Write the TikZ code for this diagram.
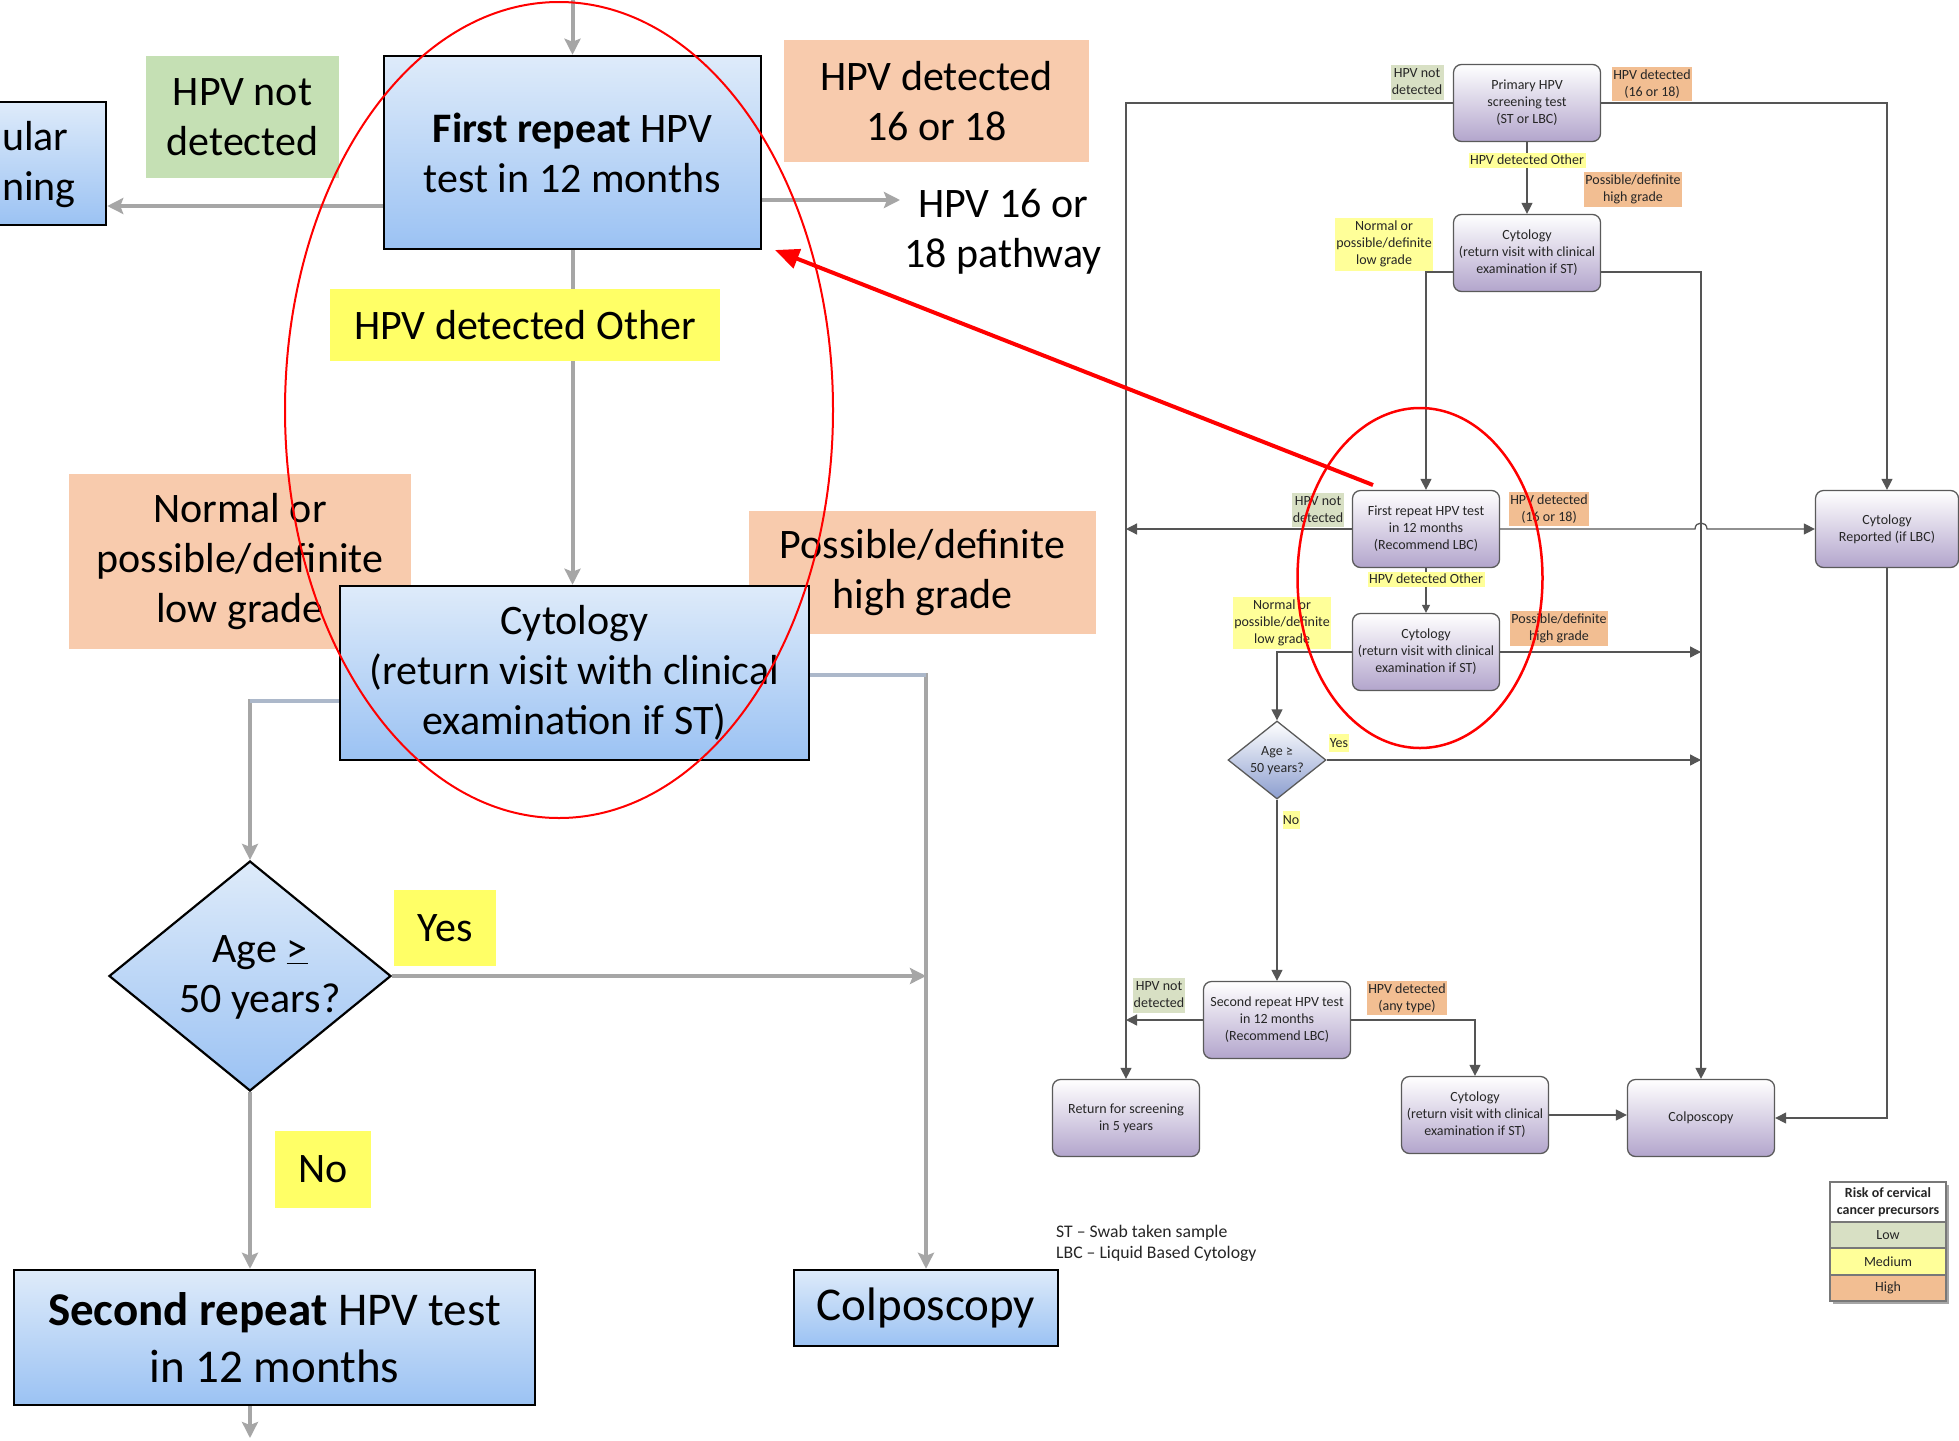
\documentclass[tikz,border=0pt]{standalone}
\usepackage{fontspec}
\setmainfont{Carlito}
\usetikzlibrary{shapes.geometric,arrows.meta,calc}
\definecolor{bigtop}{RGB}{222,235,250}
\definecolor{bigbot}{RGB}{155,194,243}
\definecolor{lgreen}{RGB}{197,224,180}
\definecolor{lpeach}{RGB}{248,203,173}
\definecolor{lyellow}{RGB}{255,255,102}
\definecolor{biggray}{RGB}{166,166,166}
\definecolor{stubgray}{RGB}{172,184,202}
\definecolor{sgreen}{RGB}{216,224,196}
\definecolor{speach}{RGB}{242,190,146}
\definecolor{syellow}{RGB}{255,255,153}
\definecolor{lavbot}{RGB}{178,165,204}
\definecolor{diabot}{RGB}{140,158,207}
\definecolor{slinec}{RGB}{85,85,85}
\definecolor{stext}{RGB}{38,38,38}
\definecolor{sborder}{RGB}{90,90,90}
\definecolor{legborder}{RGB}{120,120,120}
\newcommand\fBig{\fontsize{42}{50}\selectfont}
\newcommand\fHuge{\fontsize{47}{57}\selectfont}
\newcommand\fSmall{\fontsize{14}{17}\selectfont}
\newcommand\fNote{\fontsize{17.7}{21}\selectfont}
\tikzset{
  bigbox/.style={draw=black, line width=2.5pt, top color=bigtop, bottom color=bigbot, align=center, inner sep=0pt, font=\fBig, text=black},
  biglabel/.style={inner sep=0pt, align=center, font=\fBig, text=black},
  bigline/.style={draw=biggray, line width=4pt},
  bigarrow/.style={bigline, -{Stealth[length=16pt,width=16pt,inset=3pt]}},
  stubline/.style={draw=stubgray, line width=4pt},
  sbox/.style={draw=sborder, line width=1.3pt, rounded corners=8pt, top color=white, bottom color=lavbot, minimum width=147pt, minimum height=77pt, inner sep=0pt, align=center, font=\fSmall, text=stext},
  slabel/.style={inner sep=0pt, align=center, font=\fSmall, text=stext},
  sconn/.style={draw=slinec, line width=1.3pt},
  sarrow/.style={sconn, -{Triangle[length=11pt,width=11pt]}},
  legcell/.style={draw=legborder, line width=1.2pt, minimum width=116pt, inner sep=0pt, align=center, font=\fSmall, text=stext},
}
\begin{document}
\begin{tikzpicture}[x=1pt,y=-1pt]
\useasboundingbox (0,0) rectangle (1959,1440);
\clip (0,0) rectangle (1959,1440);
\fill[white] (0,0) rectangle (1959,1440);

% ================= big (zoomed) part =================
\node[bigbox, minimum width=306pt, minimum height=123pt] (reg) at (-47,163.5) {};
\node[anchor=west, align=left, font=\fBig, inner sep=0pt] (regtext) at (2,165) {ular\\ning};

\node[biglabel, fill=lgreen, minimum width=193pt, minimum height=122pt] (nd) at (242.5,117) {HPV not\\detected};
\node[bigbox, minimum width=377pt, minimum height=193pt] (fr) at (572.5,152.5) {\textbf{First repeat} HPV\\test in 12 months};
\node[biglabel, fill=lpeach, minimum width=305pt, minimum height=122pt] (d1618) at (936.5,101) {HPV detected\\16 or 18};
\node[biglabel, inner sep=4pt] (p1618) at (1003,232) {HPV 16 or\\18 pathway};

\node[biglabel, fill=lpeach, minimum width=342pt, minimum height=175pt] (nlg) at (240,561.5) {Normal or\\possible/definite\\low grade};
\node[biglabel, fill=lpeach, minimum width=347pt, minimum height=123pt] (phg) at (922.5,572.5) {Possible/definite\\high grade};
\node[bigbox, minimum width=469pt, minimum height=174pt] (cyt) at (574.5,673) {Cytology\\(return visit with clinical\\examination if ST)};

\node[draw=black, line width=2.2pt, diamond, top color=bigtop, bottom color=bigbot, minimum width=282pt, minimum height=230pt, inner sep=0pt] (age) at (250,976) {};
\node[biglabel] (agetext) at (260,977) {Age \underline{>}\\50 years?};

\node[bigbox, font=\fHuge, minimum width=521pt, minimum height=135pt] (sr) at (274.5,1337.5) {\textbf{Second repeat} HPV test\\in 12 months};
\node[bigbox, font=\fHuge, minimum width=264pt, minimum height=76pt] (colp) at (926,1308) {Colposcopy};

% big connectors
\coordinate (frtop) at (572.5,0);
\coordinate (y206) at (0,206);
\coordinate (y200) at (0,200);
\coordinate (c701) at (0,701);
\coordinate (c675) at (0,675);
\coordinate (srbot) at (250,1438);
\draw[bigarrow] (frtop) -- (fr.north);
\draw[bigarrow] (fr.west |- y206) -- (reg.east |- y206);
\draw[bigarrow] (fr.east |- y200) -- (p1618.west |- y200);
\draw[bigarrow] (fr.south) -- (fr.south |- cyt.north);
\draw[bigarrow] (cyt.west |- c701) -| (age.north);
\draw[stubline] (cyt.west |- c701) -- (age.north |- c701);
\draw[bigarrow] (cyt.east |- c675) -| (colp.north);
\draw[stubline] (cyt.east |- c675) -- (colp.north |- c675);
\draw[bigarrow] (age.east) -- (colp.north |- age.east);
\draw[bigarrow] (age.south) -- (age.south |- sr.north);
\draw[bigarrow] (age.south |- sr.south) -- (srbot);

\node[biglabel, fill=lyellow, minimum width=390pt, minimum height=72pt] (hdo) at (525,325) {HPV detected Other};
\node[biglabel, fill=lyellow, minimum width=102pt, minimum height=76pt] (yes) at (445,928) {Yes};
\node[biglabel, fill=lyellow, minimum width=96pt, minimum height=77pt] (no) at (323,1169.5) {No};

% ================= small flowchart =================
\node[sbox] (prim) at (1527,103) {Primary HPV\\screening test\\(ST or LBC)};
\node[sbox] (cyt1) at (1527,253) {Cytology\\(return visit with clinical\\examination if ST)};
\node[sbox] (fr2) at (1426,529) {First repeat HPV test\\in 12 months\\(Recommend LBC)};
\node[sbox] (cyt2) at (1426,652) {Cytology\\(return visit with clinical\\examination if ST)};
\node[draw=sborder, line width=1.3pt, diamond, top color=white, bottom color=diabot, minimum width=98pt, minimum height=78pt, inner sep=0pt] (age2) at (1277,760) {};
\node[slabel] (age2text) at (1277,761) {Age ≥\\50 years?};
\node[sbox] (sr2) at (1277,1020) {Second repeat HPV test\\in 12 months\\(Recommend LBC)};
\node[sbox] (ret) at (1126,1118) {Return for screening\\in 5 years};
\node[sbox] (cyt3) at (1475,1115) {Cytology\\(return visit with clinical\\examination if ST)};
\node[sbox] (colp2) at (1701,1118) {Colposcopy};
\node[sbox, minimum width=143pt] (cytrep) at (1887,529) {Cytology\\Reported (if LBC)};

% small connectors
\draw[sarrow] (prim.west) -- (ret.north |- prim.west) -- (ret.north);
\draw[sarrow] (prim.east) -| (cytrep.north);
\draw[sarrow] (prim.south) -- (cyt1.north);
\draw[sarrow] ($(cyt1.west)+(0,19)$) -| (fr2.north);
\draw[sarrow] ($(cyt1.east)+(0,19)$) -| (colp2.north);
\draw[sarrow] (fr2.west) -- (fr2.west -| ret.north);
\coordinate (hopa) at (1695,529);
\coordinate (hopb) at (1707,529);
\draw[sarrow] (fr2.east) -- (hopa) .. controls (1695,521) and (1707,521) .. (hopb) -- (cytrep.west);
\draw[sconn, -{Triangle[length=8pt,width=8pt]}] (fr2.south) -- (cyt2.north);
\draw[sarrow] (cyt2.west) -| (age2.north);
\draw[sarrow] (cyt2.east) -- (cyt2.east -| colp2.north);
\draw[sarrow] (age2.east) -- (age2.east -| colp2.north);
\draw[sarrow] (age2.south) -- (sr2.north);
\draw[sarrow] (sr2.west) -- (sr2.west -| ret.north);
\draw[sarrow] (sr2.east) -| (cyt3.north);
\draw[sarrow] (cyt3.east) -- (colp2.west |- cyt3.east);
\draw[sarrow] (cytrep.south) |- (colp2.east);

% small labels
\node[slabel, fill=sgreen, minimum width=53pt, minimum height=35pt] (snd1) at (1417,82) {HPV not\\detected};
\node[slabel, fill=speach, minimum width=80pt, minimum height=34pt] (sd1) at (1652,84) {HPV detected\\(16 or 18)};
\node[slabel, fill=syellow, minimum width=117pt, minimum height=15pt] (shdo1) at (1527,160) {HPV detected Other};
\node[slabel, fill=speach, minimum width=98pt, minimum height=35pt] (sphg1) at (1633,189) {Possible/definite\\high grade};
\node[slabel, fill=syellow, minimum width=98pt, minimum height=53pt] (snlg1) at (1384,244) {Normal or\\possible/definite\\low grade};
\node[slabel, fill=sgreen, minimum width=52pt, minimum height=34pt] (snd2) at (1318,510) {HPV not\\detected};
\node[slabel, fill=speach, minimum width=80pt, minimum height=34pt] (sd2) at (1549,509) {HPV detected\\(16 or 18)};
\node[slabel, fill=syellow, minimum width=117pt, minimum height=15pt] (shdo2) at (1426,579) {HPV detected Other};
\node[slabel, fill=syellow, minimum width=98pt, minimum height=52pt] (snlg2) at (1282,623) {Normal or\\possible/definite\\low grade};
\node[slabel, fill=speach, minimum width=98pt, minimum height=35pt] (sphg2) at (1559,628) {Possible/definite\\high grade};
\node[slabel, fill=syellow, minimum width=20pt, minimum height=18pt] (syes) at (1339,743) {Yes};
\node[slabel, fill=syellow, minimum width=17pt, minimum height=18pt] (sno) at (1291,820) {No};
\node[slabel, fill=sgreen, minimum width=52pt, minimum height=35pt] (snd3) at (1159,995) {HPV not\\detected};
\node[slabel, fill=speach, minimum width=80pt, minimum height=34pt] (sany) at (1407,998) {HPV detected\\(any type)};

% legend
\fill[black!35] (1833,1185) rectangle (1949,1304);
\node[legcell, fill=white, minimum height=40pt, font=\fSmall\bfseries] (leghead) at (1888,1202) {Risk of cervical\\cancer precursors};
\node[legcell, fill=sgreen, minimum height=26pt] (leglow) at (1888,1235) {Low};
\node[legcell, fill=syellow, minimum height=27pt] (legmed) at (1888,1261.5) {Medium};
\node[legcell, fill=speach, minimum height=26pt] (leghigh) at (1888,1288) {High};

% footnote
\node[anchor=west, align=left, inner sep=0pt, font=\fNote, text=stext] (note) at (1056,1243) {ST – Swab taken sample\\LBC – Liquid Based Cytology};

% ================= red annotations =================
\node[draw=red, line width=2pt, ellipse, minimum width=548pt, minimum height=816pt, inner sep=0pt] (bigring) at (559,410) {};
\node[draw=red, line width=2.5pt, ellipse, minimum width=245pt, minimum height=340pt, inner sep=0pt] (smallring) at (1420,578) {};
\coordinate (rstart) at (1373,485);
\coordinate (rend) at (775,250);
\draw[red, line width=4pt, -{Triangle[length=24pt,width=20pt]}] (rstart) -- (rend);
\end{tikzpicture}
\end{document}
